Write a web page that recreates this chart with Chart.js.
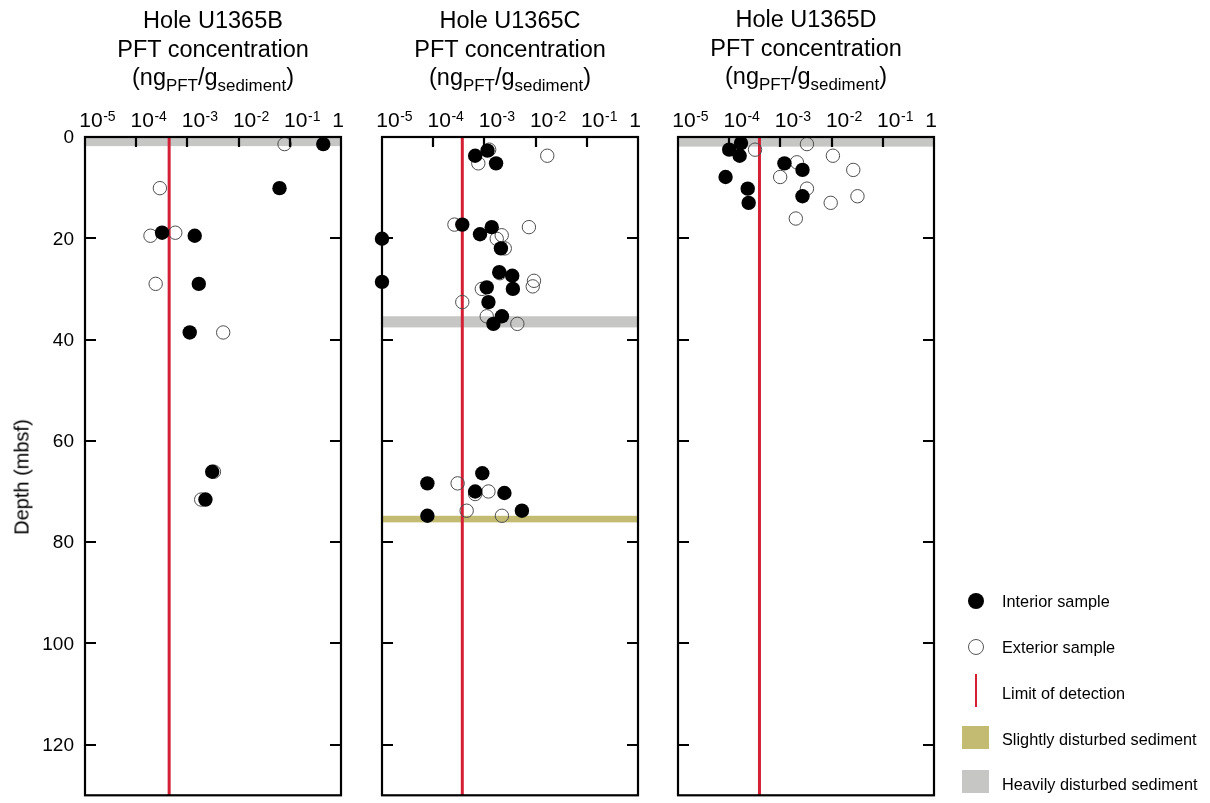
<!DOCTYPE html>
<html><head><meta charset="utf-8">
<script src="https://cdn.jsdelivr.net/npm/chart.js@4.4.1/dist/chart.umd.min.js"></script>
<style>
html,body{margin:0;padding:0;background:#fff;}
#wrap{position:relative;width:1210px;height:803px;overflow:hidden;font-family:"Liberation Sans",Arial,Helvetica,sans-serif;color:#000;}
canvas{position:absolute;left:0;top:0;}
.title{position:absolute;top:6px;width:340px;text-align:center;font-size:23.5px;line-height:28.5px;white-space:nowrap;}
.title sub{font-size:0.72em;vertical-align:-0.34em;line-height:0;}
#ytitle{position:absolute;left:22px;top:477px;transform:translate(-50%,-50%) rotate(-90deg);font-size:20px;white-space:nowrap;}
.leg{position:absolute;left:1002px;font-size:16.3px;white-space:nowrap;transform:translateY(-50%);}
.sym{position:absolute;}
</style>
</head><body>
<div id="wrap">
<canvas id="cB" width="1210" height="803"></canvas>
<canvas id="cC" width="1210" height="803"></canvas>
<canvas id="cD" width="1210" height="803"></canvas>
<div class="title" style="left:43px">Hole U1365B<br>PFT concentration<br>(ng<sub>PFT</sub>/g<sub>sediment</sub>)</div>
<div class="title" style="left:340px">Hole U1365C<br>PFT concentration<br>(ng<sub>PFT</sub>/g<sub>sediment</sub>)</div>
<div class="title" style="left:636px;top:5px">Hole U1365D<br>PFT concentration<br>(ng<sub>PFT</sub>/g<sub>sediment</sub>)</div>
<div id="ytitle">Depth (mbsf)</div>
<div class="sym" style="left:968px;top:593px;width:16px;height:16px;border-radius:50%;background:#000"></div>
<div class="leg" style="top:601px">Interior sample</div>
<div class="sym" style="left:968px;top:639px;width:14px;height:14px;border-radius:50%;border:1px solid #555"></div>
<div class="leg" style="top:647px">Exterior sample</div>
<div class="sym" style="left:975px;top:674px;width:2px;height:33px;background:#d51f35"></div>
<div class="leg" style="top:693px">Limit of detection</div>
<div class="sym" style="left:962px;top:726px;width:27px;height:23px;background:#c3bb72"></div>
<div class="leg" style="top:739px">Slightly disturbed sediment</div>
<div class="sym" style="left:962px;top:770px;width:27px;height:23px;background:#c6c6c5"></div>
<div class="leg" style="top:784px">Heavily disturbed sediment</div>
</div>
<script>
// ---- tick definitions ----
const xTickValues = [1e-5, 1e-4, 1e-3, 1e-2, 1e-1, 1];
const xTickExps = [-5, -4, -3, -2, -1, 0];
const yTickValues = [0, 20, 40, 60, 80, 100, 120];

// ---- Hole U1365B ----
const bIntDepth = [1.4, 10.1, 18.9, 19.5, 29.0, 38.6, 66.1, 71.6];
const bIntConc  = [0.45, 0.063, 3.2e-4, 1.39e-3, 1.67e-3, 1.11e-3, 3.05e-3, 2.25e-3];
const bExtDepth = [1.4, 10.1, 19.5, 18.9, 29.0, 38.6, 66.1, 71.6];
const bExtConc  = [0.079, 2.9e-4, 1.9e-4, 5.8e-4, 2.4e-4, 5.0e-3, 3.3e-3, 1.86e-3];
const bLOD = 4.4e-4;
const bHeavy = [[0, 1.8]];
const bSlight = [];

// ---- Hole U1365C ----
const cIntDepth = [2.7, 3.7, 5.2, 17.3, 17.8, 19.2, 20.1, 22.0, 26.7, 27.4, 28.6, 29.7, 30.0, 32.6, 35.4, 36.9, 66.4, 68.4, 70.0, 70.3, 73.8, 74.8];
const cIntConc  = [1.15e-3, 6.6e-4, 1.69e-3, 3.7e-4, 1.39e-3, 8.2e-4, 1e-5, 2.1e-3, 1.95e-3, 3.5e-3, 1e-5, 1.11e-3, 3.6e-3, 1.2e-3, 2.2e-3, 1.5e-3, 9.1e-4, 7.7e-5, 6.6e-4, 2.46e-3, 5.4e-3, 7.7e-5];
const cExtDepth = [2.5, 5.2, 3.7, 17.3, 17.8, 19.4, 20.1, 22.0, 26.9, 28.4, 29.5, 30.0, 32.6, 35.4, 36.9, 68.4, 70.5, 70.0, 73.8, 74.8];
const cExtConc  = [1.24e-3, 7.6e-4, 0.0169, 2.6e-4, 7.4e-3, 2.18e-3, 1.74e-3, 2.5e-3, 2.0e-3, 9.3e-3, 8.8e-3, 8.9e-4, 3.7e-4, 1.11e-3, 4.4e-3, 3.0e-4, 6.6e-4, 1.2e-3, 4.5e-4, 2.2e-3];
const cLOD = 3.7e-4;
const cHeavy = [[35.4, 37.6]];
const cSlight = [[74.8, 76.1]];

// ---- Hole U1365D ----
const dIntDepth = [1.2, 2.5, 3.7, 5.2, 6.5, 7.9, 10.2, 11.7, 13.0];
const dIntConc  = [1.7e-4, 1.0e-4, 1.6e-4, 1.2e-3, 2.7e-3, 8.5e-5, 2.3e-4, 2.7e-3, 2.4e-4];
const dExtDepth = [2.5, 1.4, 3.7, 5.0, 6.5, 7.9, 10.2, 11.7, 13.0, 16.1];
const dExtConc  = [3.2e-4, 3.3e-3, 0.0106, 2.1e-3, 0.0265, 9.9e-4, 3.3e-3, 0.032, 9.6e-3, 2.0e-3];
const dLOD = 3.9e-4;
const dHeavy = [[0, 1.9]];
const dSlight = [];

const FONT = '"Liberation Sans", Arial, Helvetica, sans-serif';
const HEAVY_COLOR = '#c6c6c5';
const SLIGHT_COLOR = '#c3bb72';

function zip(xs, ys){ return xs.map((v,i)=>({x:v, y:ys[i]})); }

const framePlugin = {
  id: 'frame',
  beforeDatasetsDraw(chart, args, o){
    const {ctx, chartArea:a} = chart; const y = chart.scales.y;
    ctx.save();
    const drawBands = (list, color) => list.forEach(b => {
      const y1 = y.getPixelForValue(b[0]), y2 = y.getPixelForValue(b[1]);
      ctx.fillStyle = color; ctx.fillRect(a.left, y1, a.right - a.left, y2 - y1);
    });
    drawBands(o.heavy, HEAVY_COLOR);
    drawBands(o.slight, SLIGHT_COLOR);
    ctx.restore();
  },
  afterDatasetsDraw(chart, args, o){
    const {ctx, chartArea:a} = chart; const x = chart.scales.x, y = chart.scales.y;
    ctx.save();
    ctx.strokeStyle = '#000'; ctx.lineWidth = 2.2;
    ctx.strokeRect(a.left, a.top, a.right - a.left, a.bottom - a.top);
    ctx.beginPath();
    xTickValues.forEach((v,i) => {
      if (i === 0 || i === xTickValues.length - 1) return;
      const px = Math.round(x.getPixelForValue(v));
      ctx.moveTo(px, a.top); ctx.lineTo(px, a.top + 10);
    });
    yTickValues.forEach(v => {
      if (v <= 0) return;
      const py = Math.round(y.getPixelForValue(v));
      ctx.moveTo(a.left, py); ctx.lineTo(a.left + 11, py);
      ctx.moveTo(a.right, py); ctx.lineTo(a.right - 11, py);
    });
    ctx.stroke();
    ctx.fillStyle = '#000'; ctx.textBaseline = 'alphabetic';
    xTickValues.forEach((v,i) => {
      const px = x.getPixelForValue(v); const e = xTickExps[i];
      if (e === 0) {
        ctx.font = '21px ' + FONT; ctx.textAlign = 'center';
        ctx.fillText('1', px - 3, a.top - 10);
      } else {
        ctx.font = '21px ' + FONT; ctx.textAlign = 'center';
        ctx.fillText('10', px + 6, a.top - 10);
        const w = ctx.measureText('10').width;
        ctx.font = '14px ' + FONT; ctx.textAlign = 'left';
        ctx.fillText('-' + Math.abs(e), px + 6 + w/2 + 0.5, a.top - 16.5);
      }
    });
    if (o.yLabels) {
      ctx.font = '19px ' + FONT; ctx.textAlign = 'right'; ctx.textBaseline = 'middle';
      yTickValues.forEach(v => {
        ctx.fillText(String(v), a.left - 11, y.getPixelForValue(v) + 1);
      });
    }
    ctx.restore();
  }
};

function makeChart(id, p){
  return new Chart(document.getElementById(id), {
    type: 'scatter',
    data: { datasets: [
      { label: 'Interior sample', data: zip(p.intC, p.intD), pointRadius: 7.2, pointHoverRadius: 7.2,
        pointBackgroundColor: '#000', pointBorderWidth: 0, borderWidth: 0, clip: false },
      { label: 'Exterior sample', data: zip(p.extC, p.extD), pointRadius: 6.7, pointHoverRadius: 6.7,
        pointBackgroundColor: 'rgba(0,0,0,0)', pointBorderColor: '#4d4d4d', pointBorderWidth: 1, clip: false },
      { type: 'line', label: 'Limit of detection', data: [{x: p.lod, y: 0}, {x: p.lod, y: 130}],
        borderColor: '#d51f35', borderWidth: 3, pointRadius: 0, fill: false, showLine: true }
    ]},
    options: {
      responsive: false, animation: false, devicePixelRatio: 1, events: [],
      layout: { padding: { left: p.left, right: 1210 - p.right, top: 137, bottom: 3 } },
      plugins: { legend: { display: false }, tooltip: { enabled: false },
        frame: { heavy: p.heavy, slight: p.slight, yLabels: p.yLabels } },
      scales: {
        x: { type: 'logarithmic', min: 1e-5, max: 1, display: false },
        y: { type: 'linear', min: 0, max: 130, reverse: true, display: false }
      }
    },
    plugins: [framePlugin]
  });
}

makeChart('cB', { intC: bIntConc, intD: bIntDepth, extC: bExtConc, extD: bExtDepth, lod: bLOD,
  heavy: bHeavy, slight: bSlight, left: 85, right: 341, yLabels: true });
makeChart('cC', { intC: cIntConc, intD: cIntDepth, extC: cExtConc, extD: cExtDepth, lod: cLOD,
  heavy: cHeavy, slight: cSlight, left: 382, right: 638, yLabels: false });
makeChart('cD', { intC: dIntConc, intD: dIntDepth, extC: dExtConc, extD: dExtDepth, lod: dLOD,
  heavy: dHeavy, slight: dSlight, left: 678, right: 934, yLabels: false });
</script>
</body></html>
